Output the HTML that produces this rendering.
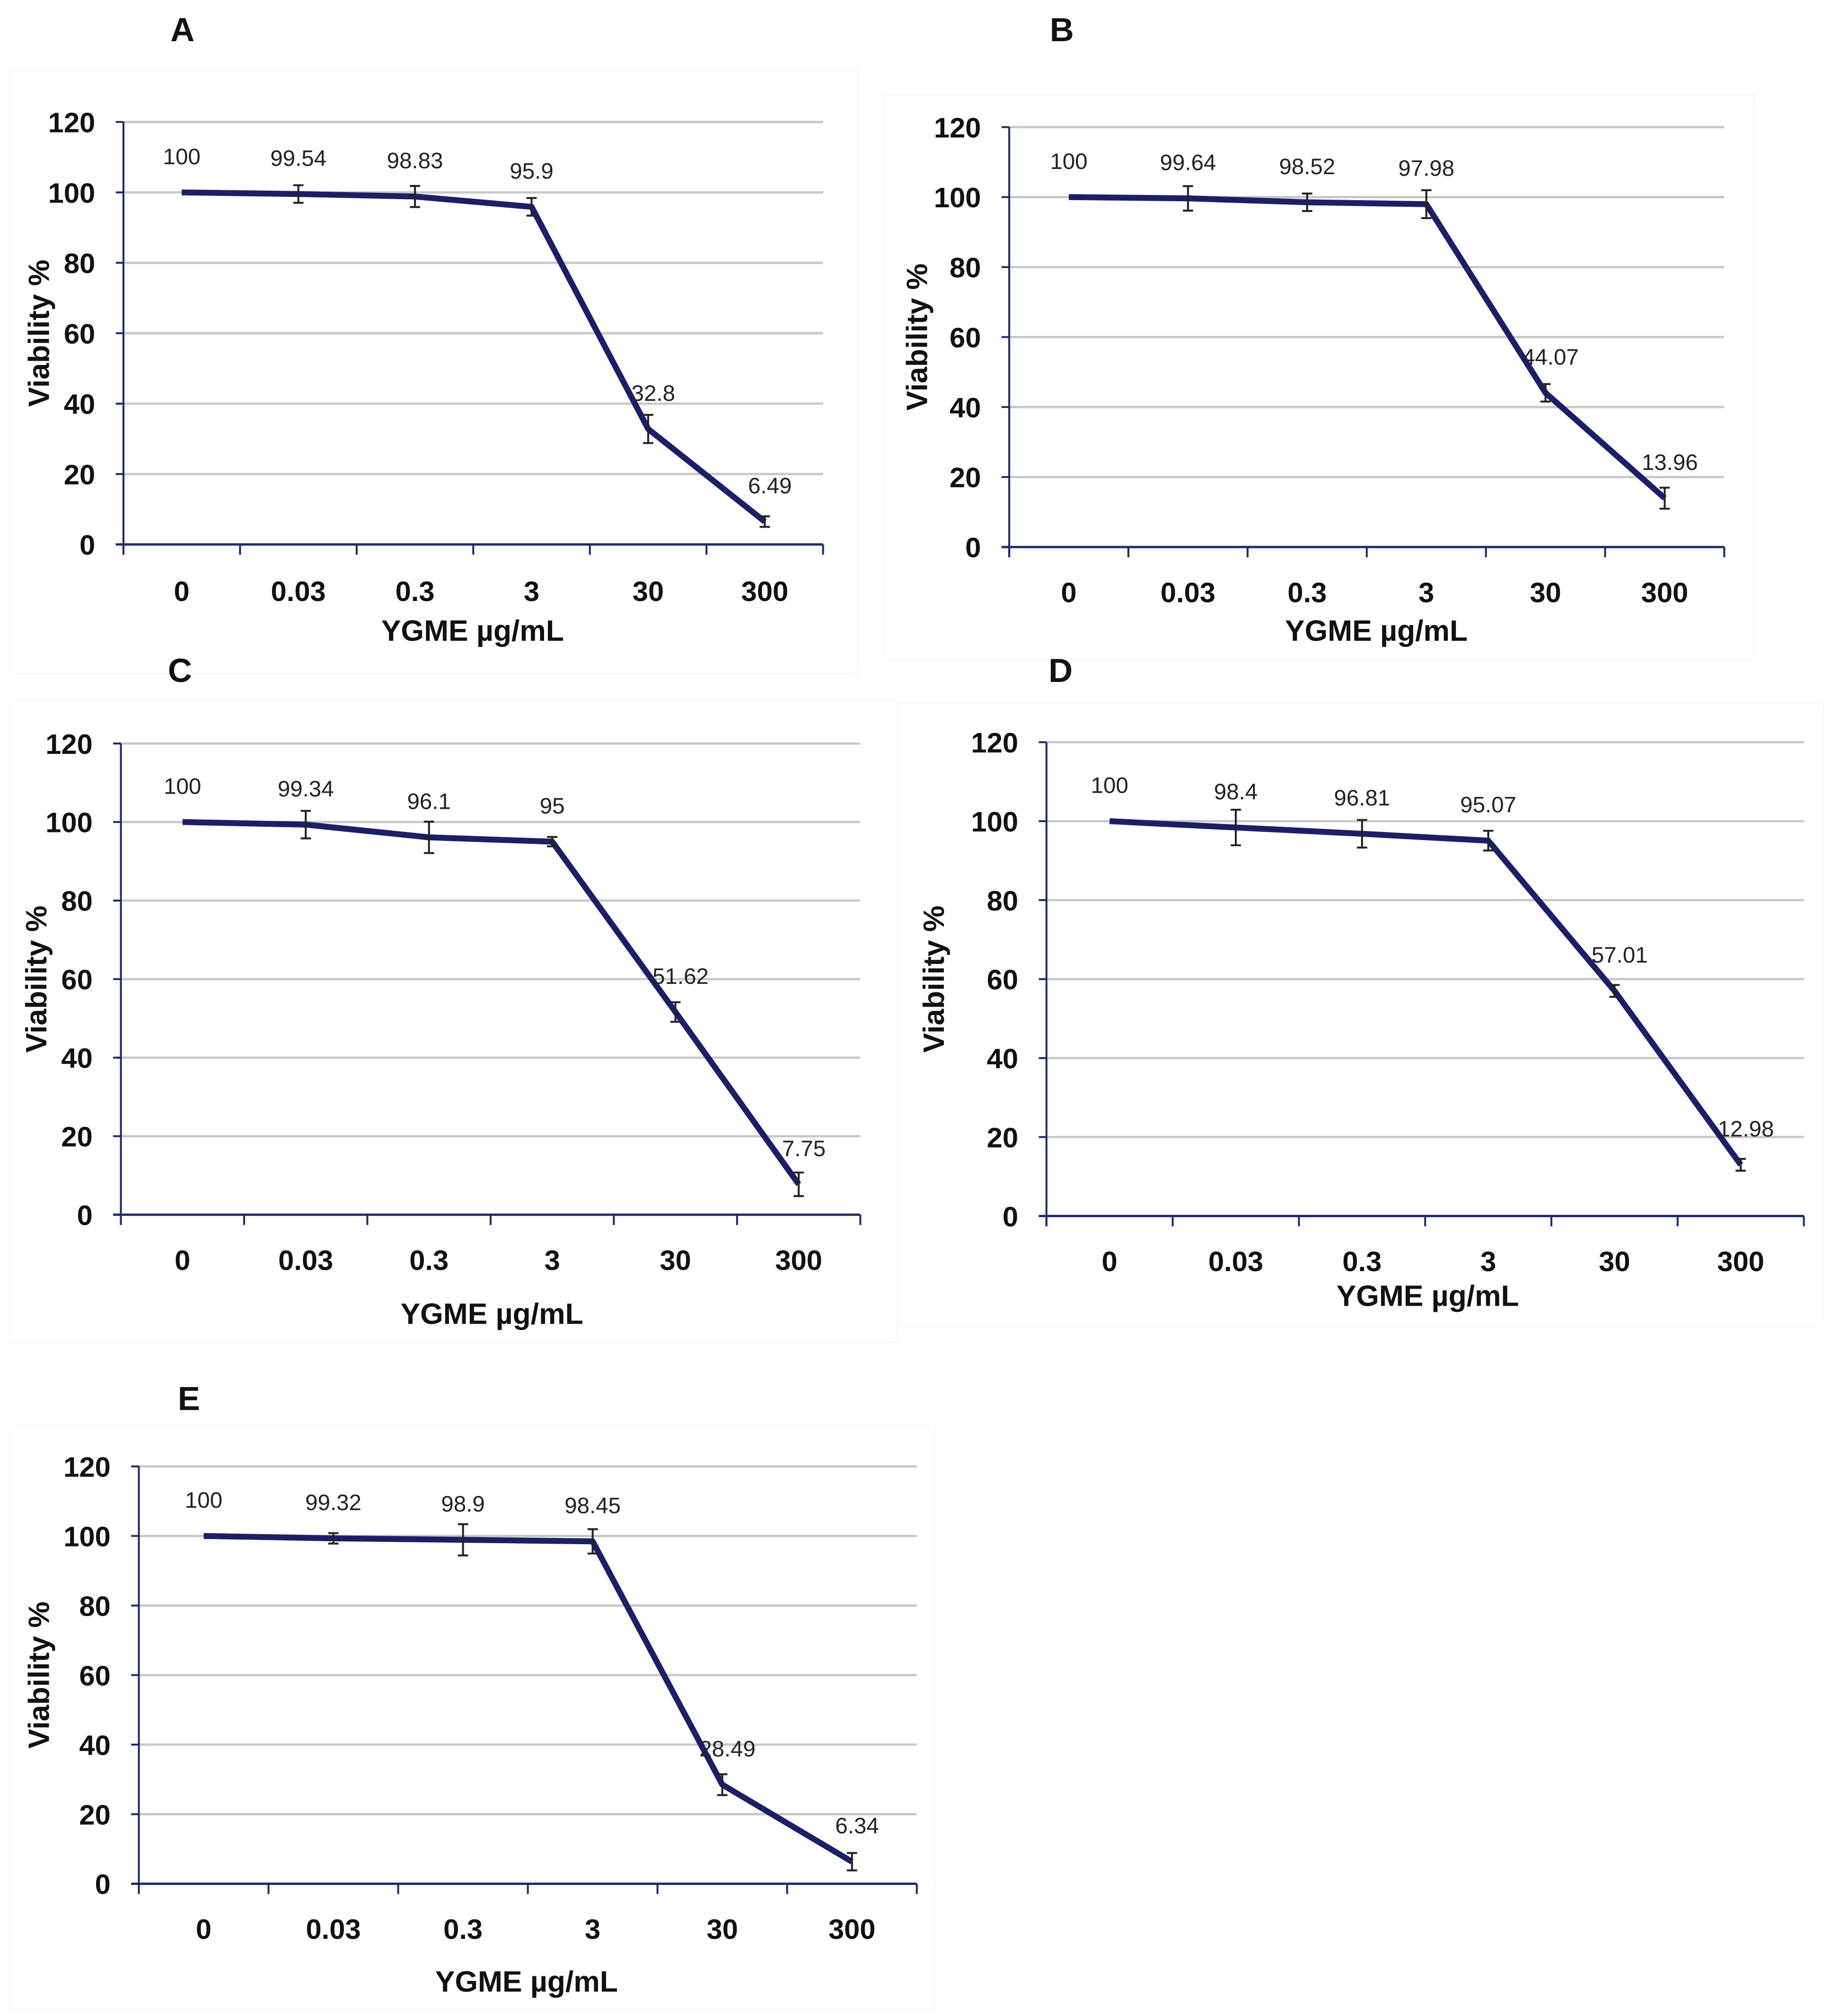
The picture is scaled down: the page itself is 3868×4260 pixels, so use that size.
<!DOCTYPE html>
<html><head><meta charset="utf-8">
<style>
html,body{margin:0;padding:0;background:#fff;}
svg{display:block;}
text{font-family:"Liberation Sans",Arial,sans-serif;}
</style></head>
<body>
<svg id="fig" width="3868" height="4260" viewBox="0 0 1425.2 1570" xmlns="http://www.w3.org/2000/svg"></svg>
<script>
const categories = ["0","0.03","0.3","3","30","300"];
const yTicks = [0,20,40,60,80,100,120];
const valuesA = [100,99.54,98.83,95.9,32.8,6.49];
const errorsA = [0,2.5,3,2.5,4,1.5];
const valuesB = [100,99.64,98.52,97.98,44.07,13.96];
const errorsB = [0,3.5,2.5,4,2.5,3];
const valuesC = [100,99.34,96.1,95,51.62,7.75];
const errorsC = [0,3.5,4,1.2,2.5,3];
const valuesD = [100,98.4,96.81,95.07,57.01,12.98];
const errorsD = [0,4.5,3.5,2.5,1.5,1.5];
const valuesE = [100,99.32,98.9,98.45,28.49,6.34];
const errorsE = [0,1.5,4.5,3.5,3,2.5];
const labelsA = ["100","99.54","98.83","95.9","32.8","6.49"];
const labelsB = ["100","99.64","98.52","97.98","44.07","13.96"];
const labelsC = ["100","99.34","96.1","95","51.62","7.75"];
const labelsD = ["100","98.4","96.81","95.07","57.01","12.98"];
const labelsE = ["100","99.32","98.9","98.45","28.49","6.34"];

const NS="http://www.w3.org/2000/svg";
const svg=document.getElementById('fig');
function mk(tag,attrs,parent,txt){const e=document.createElementNS(NS,tag);for(const k in attrs)e.setAttribute(k,attrs[k]);if(txt!==undefined)e.textContent=txt;(parent||svg).appendChild(e);return e;}

const panels=[
 {id:'a',letter:'A',lx:142,ly:32,x0:96,x1:641,yTop:95,yBot:424,xl:460,xt:499,xtc:368,yt:30,vals:valuesA,errs:errorsA,labs:labelsA,box:[8,55,660,470]},
 {id:'b',letter:'B',lx:827,ly:32,x0:786,x1:1343,yTop:99,yBot:426,xl:461,xt:499,xtc:1072,yt:714,vals:valuesB,errs:errorsB,labs:labelsB,box:[688,74,678,440]},
 {id:'c',letter:'C',lx:140,ly:531,x0:94,x1:670,yTop:579,yBot:946,xl:981,xt:1031,xtc:383,yt:28,vals:valuesC,errs:errorsC,labs:labelsC,box:[8,545,690,500]},
 {id:'d',letter:'D',lx:826,ly:531,x0:815,x1:1405,yTop:578,yBot:947,xl:982,xt:1017,xtc:1112,yt:727,vals:valuesD,errs:errorsD,labs:labelsD,box:[700,548,720,485]},
 {id:'e',letter:'E',lx:147,ly:1098,x0:108,x1:714,yTop:1142,yBot:1467,xl:1502,xt:1551,xtc:410,yt:30,vals:valuesE,errs:errorsE,labs:labelsE,box:[8,1110,720,455]}
];

panels.forEach(p=>{
  const g=mk('g',{});
  
  
  const y=v=>p.yBot-(v/120)*(p.yBot-p.yTop);
  const step=(p.x1-p.x0)/categories.length;
  const x=i=>p.x0+step*(i+0.5);
  const bx=mk('rect',{x:p.box[0],y:p.box[1],width:p.box[2],height:p.box[3],fill:'none',stroke:'#f8f8f8','stroke-width':1.2},g);
  
  
  const L=mk('text',{x:p.lx,y:p.ly,'font-size':26,'font-weight':'bold','text-anchor':'middle',fill:'#111'},g,p.letter);
  
  
  yTicks.forEach(t=>{
    if(t>0){const gl=mk('line',{x1:p.x0,x2:p.x1,y1:y(t),y2:y(t),stroke:'#c8c8c8','stroke-width':1.8},g);
      
      }
    mk('line',{x1:p.x0-6,x2:p.x0,y1:y(t),y2:y(t),stroke:'#1f2a6b','stroke-width':1.5},g);
    const tl=mk('text',{x:p.x0-22,y:y(t)+8,'font-size':22,'font-weight':'bold','text-anchor':'end',fill:'#111'},g,String(t));
    
    
  });
  const ya=mk('line',{x1:p.x0,x2:p.x0,y1:p.yTop,y2:p.yBot+8,stroke:'#1f2a6b','stroke-width':1.5},g);
  
  
  const xa=mk('line',{x1:p.x0-6,x2:p.x1,y1:p.yBot,y2:p.yBot,stroke:'#1f2a6b','stroke-width':1.8},g);
  
  
  for(let i=0;i<=categories.length;i++){
    mk('line',{x1:p.x0+step*i,x2:p.x0+step*i,y1:p.yBot,y2:p.yBot+8,stroke:'#1f2a6b','stroke-width':1.5},g);
  }
  categories.forEach((c,i)=>{
    const xl=mk('text',{x:x(i),y:p.xl+8,'font-size':22,'font-weight':'bold','text-anchor':'middle',fill:'#111'},g,c);
    
    
  });
  const xt=mk('text',{x:p.xtc,y:p.xt,'font-size':23,'font-weight':'bold','text-anchor':'middle',fill:'#111'},g,'YGME µg/mL');
  
  
  const cy=(p.yTop+p.yBot)/2;
  const yt=mk('text',{x:p.yt,y:cy,'font-size':23,'font-weight':'bold','text-anchor':'middle',fill:'#111',transform:`rotate(-90 ${p.yt} ${cy})`,dy:8},g,'Viability %');
  
  
  const pts=p.vals.map((v,i)=>x(i)+','+y(v)).join(' ');
  const ln=mk('polyline',{points:pts,fill:'none',stroke:'#1a1f66','stroke-width':4.6,'stroke-linejoin':'round'},g);
  
  
  p.vals.forEach((v,i)=>{
    const e=p.errs[i];
    if(e>0){
      const eg=mk('g',{stroke:'#222','stroke-width':1.5},g);
      
      
      mk('line',{x1:x(i),x2:x(i),y1:y(v+e),y2:y(v-e)},eg);
      mk('line',{x1:x(i)-4,x2:x(i)+4,y1:y(v+e),y2:y(v+e)},eg);
      mk('line',{x1:x(i)-4,x2:x(i)+4,y1:y(v-e),y2:y(v-e)},eg);
    }
    const dl=mk('text',{x:x(i)+(i>=4?4:0),y:y(v)-22,'font-size':17.5,'text-anchor':'middle',fill:'#222'},g,p.labs[i]);
    
    
  });
});
</script>
</body></html>
